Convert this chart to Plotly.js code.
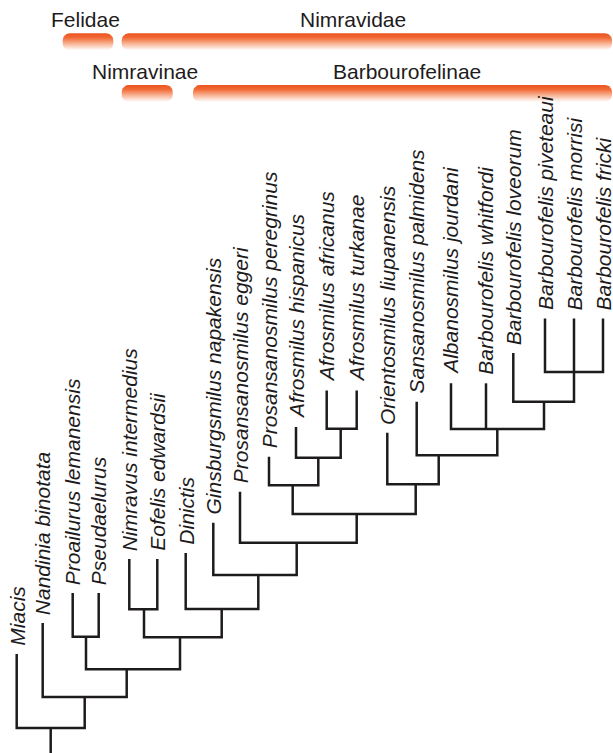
<!DOCTYPE html>
<html>
<head>
<meta charset="utf-8">
<script src="https://cdn.plot.ly/plotly-3.0.1.min.js"></script>
<style>html,body{margin:0;padding:0;background:#fff;}#chart{width:613px;height:753px;}</style>
</head>
<body>
<div id="chart"></div>
<script>
// ---- Data ----
const taxa = ["Miacis","Nandinia binotata","Proailurus lemanensis","Pseudaelurus",
  "Nimravus intermedius","Eofelis edwardsii","Dinictis","Ginsburgsmilus napakensis",
  "Prosansanosmilus eggeri","Prosansanosmilus peregrinus","Afrosmilus hispanicus",
  "Afrosmilus africanus","Afrosmilus turkanae","Orientosmilus liupanensis",
  "Sansanosmilus palmidens","Albanosmilus jourdani","Barbourofelis whitfordi",
  "Barbourofelis loveorum","Barbourofelis piveteaui","Barbourofelis morrisi","Barbourofelis fricki"];
const tipPos = [16.7,42.7,72.7,98.7,129.3,157.3,185.7,213.3,240,269,296,326.7,356.7,387.3,416.7,451,486,513.3,545,574,603];
const tipTop = [654,623,593,593,559,559,553,522.7,491.7,456.7,427,390.5,390.5,432.7,401.7,383.3,383.3,353,318.5,318.5,318.5];
// internal nodes: indices < 21 are tips, >= 21 are nodes in this list
const nodeChildren = [[18,19,20],[17,21],[15,16,22],[14,23],[13,24],[11,12],[10,26],[9,27],[28,25],
  [8,29],[7,30],[6,31],[4,5],[33,32],[2,3],[35,34],[1,36],[0,37]];
const nodeHeight = [372,401.7,429,455.3,484.3,428.7,457.7,485.3,514,542.7,575,609,609.3,637.3,636.7,669.3,697,728];
const nodePos = [574,544,497.3,438.7,415.7,340.7,318.3,292.7,356.7,296.7,258.3,221.7,144,180,86,126.7,84.7,50.7];
const rootBase = 753;
// clade bars
const cladeNames = ["Felidae","Nimravidae","Nimravinae","Barbourofelinae"];
const cladeFrom = [62.7,121.7,121.7,193];
const cladeTo = [113.3,612,172.7,612];
const cladeRow = [0,0,1,1];
const cladeLabelX = [85,352.7,145,406.7];

// ---- Build ----
const NT = taxa.length;
function px(i){ return i < NT ? tipPos[i] : nodePos[i-NT]; }
function py(i){ return i < NT ? tipTop[i] : nodeHeight[i-NT]; }

const lx = [], ly = [];
nodeChildren.forEach((ch, k) => {
  const h = nodeHeight[k];
  const sorted = ch.slice().sort((a,b)=>px(a)-px(b));
  const L = sorted[0], R = sorted[sorted.length-1];
  lx.push(px(L), px(L), px(R), px(R), null);
  ly.push(py(L), h, h, py(R), null);
  sorted.slice(1,-1).forEach(c => { lx.push(px(c), px(c), null); ly.push(py(c), h, null); });
});
const rootIdx = NT + nodeChildren.length - 1;
lx.push(px(rootIdx), px(rootIdx)); ly.push(py(rootIdx), rootBase);

const traces = [];
// clade bars (rounded, gradient)
const rowTop = [33.3, 85];
const barH = 17, rad = 7;
cladeNames.forEach((n, i) => {
  const x0 = cladeFrom[i], x1 = cladeTo[i], t = rowTop[cladeRow[i]], b = t + barH;
  const xs = [], ys = [];
  const arc = (cx, cy, a0, a1) => { for (let s = 0; s <= 10; s++) { const a = a0 + (a1-a0)*s/10; xs.push(cx + rad*Math.cos(a)); ys.push(cy - rad*Math.sin(a)); } };
  arc(x0+rad, t+rad, Math.PI, Math.PI/2);
  arc(x1-rad, t+rad, Math.PI/2, 0);
  arc(x1-rad, b-rad, 0, -Math.PI/2);
  arc(x0+rad, b-rad, -Math.PI/2, -Math.PI);
  xs.push(xs[0]); ys.push(ys[0]);
  traces.push({x: xs, y: ys, type:'scatter', mode:'lines', fill:'toself', line:{width:0},
    fillcolor:'#f15a24',
    fillgradient:{type:'vertical', start:t, stop:b,
      colorscale:[[0,'#ec5420'],[0.25,'#f16834'],[0.6,'#f8b293'],[1,'#ffffff']]},
    hoverinfo:'skip', showlegend:false});
});
traces.push({x: lx, y: ly, type:'scatter', mode:'lines', line:{color:'#1e1b1c', width:2.5},
  hoverinfo:'skip', showlegend:false});

const annotations = [];
taxa.forEach((t, i) => {
  annotations.push({x: tipPos[i], y: tipTop[i]-6, xref:'x', yref:'y', text: t, showarrow:false,
    textangle:-90, xanchor:'center', yanchor:'bottom',
    font:{family:'Liberation Sans, Arial, sans-serif', size:21, style:'italic', color:'#1e1b1c'}});
});
const labelY = [19.5, 71];
cladeNames.forEach((n, i) => {
  annotations.push({x: cladeLabelX[i], y: labelY[cladeRow[i]], xref:'x', yref:'y', text:n, showarrow:false,
    xanchor:'center', yanchor:'middle',
    font:{family:'Liberation Sans, Arial, sans-serif', size:21, color:'#1e1b1c'}});
});

const layout = {
  width:613, height:753, margin:{l:0,r:0,t:0,b:0},
  paper_bgcolor:'#fff', plot_bgcolor:'#fff',
  xaxis:{range:[0,613], visible:false, fixedrange:true},
  yaxis:{range:[753,0], visible:false, fixedrange:true},
  annotations: annotations, showlegend:false
};
Plotly.newPlot('chart', traces, layout, {displayModeBar:false, staticPlot:true});
</script>
</body>
</html>
